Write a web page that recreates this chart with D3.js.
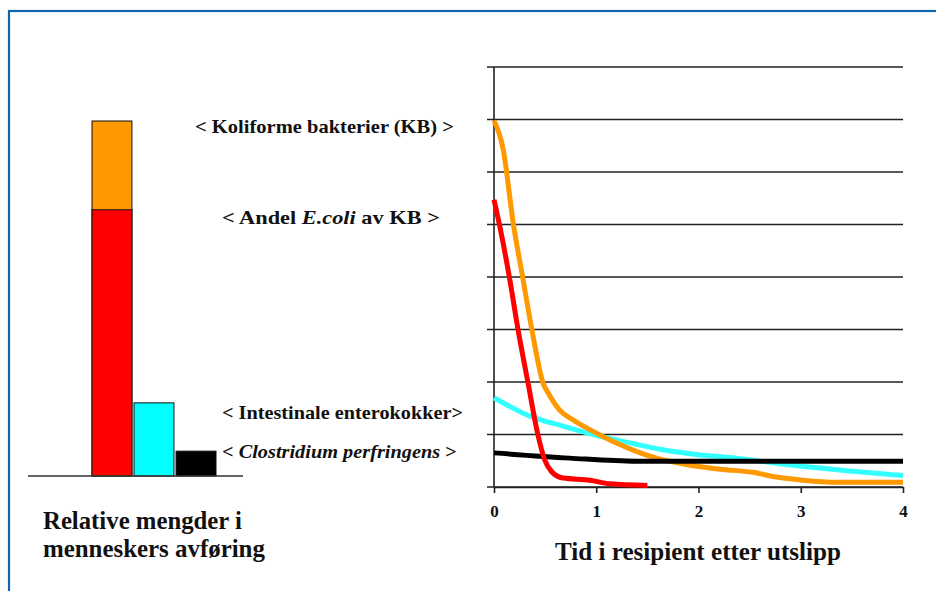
<!DOCTYPE html>
<html>
<head>
<meta charset="utf-8">
<script src="https://cdn.jsdelivr.net/npm/d3@7"></script>
<style>
  html, body { margin: 0; padding: 0; background: #fff; }
  svg { display: block; }
</style>
</head>
<body>
<svg id="chart" width="936" height="591"></svg>
<script>
// ---- Data ----
// Left panel: relative amounts in human faeces (relative units, KB = 100)
const barNames = ["Koliforme bakterier (KB)", "Intestinale enterokokker", "Clostridium perfringens"];
const barTotals = [100, 20.6, 7];
const barEcoliShare = [75, 0, 0];   // E. coli part of coliform bar

// Right panel: time in recipient after discharge (x) vs. relative amount (y)
const timeKB  = [0, 0.09, 0.19, 0.28, 0.37, 0.48, 0.53, 0.64, 0.77, 0.97, 1.16, 1.39, 1.59, 1.88, 2.21, 2.53, 2.76, 3.02, 3.35, 4.0];
const valKB   = [6.98, 6.43, 5.0, 4.0, 3.0, 1.98, 1.79, 1.47, 1.28, 1.06, 0.87, 0.68, 0.55, 0.43, 0.34, 0.28, 0.19, 0.13, 0.09, 0.09];

const timeEcoli = [0, 0.055, 0.15, 0.235, 0.333, 0.43, 0.495, 0.56, 0.675, 0.94, 1.13, 1.5];
const valEcoli  = [5.47, 4.98, 4.0, 3.0, 1.98, 0.99, 0.52, 0.30, 0.17, 0.13, 0.06, 0.03];

const timeEntero = [0, 0.35, 0.675, 0.97, 1.33, 1.65, 1.98, 2.37, 2.86, 3.35, 4.0];
const valEntero  = [1.70, 1.35, 1.16, 1.0, 0.84, 0.71, 0.62, 0.55, 0.43, 0.33, 0.22];

const timeClos = [0, 0.74, 1.39, 2.5, 4.0];
const valClos  = [0.65, 0.55, 0.49, 0.49, 0.49];

const xTickValues = [0, 1, 2, 3, 4];
const gridValues = [0, 1, 2, 3, 4, 5, 6, 7, 8];

const xTitle = "Tid i resipient etter utslipp";
const leftTitle = ["Relative mengder i", "menneskers avføring"];

// ---- Drawing ----
const svg = d3.select("#chart");
const FONT = '"Liberation Serif"';

function txt(sel, size) {
  return sel.style("font-family", FONT).style("font-weight", "bold").attr("font-size", size).attr("fill", "#111");
}
// place text at (x,y) and stretch horizontally to a target width
function fit(t, x, y, width) {
  const w = t.node().getComputedTextLength();
  const k = w > 0 ? width / w : 1;
  t.attr("x", 0).attr("y", 0).attr("transform", `translate(${x},${y}) scale(${k},1)`);
  return t;
}

// blue frame
svg.append("rect").attr("x", 9).attr("y", 11).attr("width", 960).attr("height", 620)
  .attr("fill", "none").attr("stroke", "#1464b4").attr("stroke-width", 2.2);

// ---- Bars ----
const xBar = d3.scaleBand().domain(barNames).range([92, 216]).paddingInner(0.05);
const yBar = d3.scaleLinear().domain([0, 100]).range([476, 121]);
const barColors = ["#ff9900", "#00ffff", "#000000"];

const bars = svg.append("g");
barNames.forEach((n, i) => {
  bars.append("rect")
    .attr("x", xBar(n)).attr("width", xBar.bandwidth())
    .attr("y", yBar(barTotals[i])).attr("height", yBar(0) - yBar(barTotals[i]))
    .attr("fill", barColors[i]).attr("stroke", "#111").attr("stroke-width", 1);
  if (barEcoliShare[i] > 0) {
    bars.append("rect")
      .attr("x", xBar(n)).attr("width", xBar.bandwidth())
      .attr("y", yBar(barEcoliShare[i])).attr("height", yBar(0) - yBar(barEcoliShare[i]))
      .attr("fill", "#ff0000").attr("stroke", "#111").attr("stroke-width", 1);
  }
});
// baseline
svg.append("line").attr("x1", 28).attr("x2", 243).attr("y1", yBar(0)).attr("y2", yBar(0))
  .attr("stroke", "#333").attr("stroke-width", 1.5);

// bar labels
function label(y, x, width, parts) {
  const t = txt(svg.append("text"), 18);
  parts.forEach(p => {
    const s = t.append("tspan").text(p[0]);
    if (p[1]) s.style("font-style", "italic");
  });
  fit(t, x, y, width);
}
label(133, 195, 259, [["< Koliforme bakterier (KB)  >", false]]);
label(224, 222, 218, [["< Andel ", false], ["E.coli", true], [" av KB    >", false]]);
label(419, 222, 241, [["< Intestinale enterokokker>", false]]);
label(458, 222, 235, [["< ", false], ["Clostridium perfringens", true], [" >", false]]);

// left title
const leftWidths = [199, 222];
leftTitle.forEach((s, i) => {
  fit(txt(svg.append("text"), 25).text(s), 43, 529 + i * 28, leftWidths[i]);
});

// ---- Line chart ----
const x = d3.scaleLinear().domain([0, 4]).range([494, 903]);
const y = d3.scaleLinear().domain([0, 8]).range([487, 67]);

const grid = svg.append("g");
grid.selectAll("line.g").data(gridValues).join("line")
  .attr("x1", x(0) - 7).attr("x2", x(4)).attr("y1", d => y(d)).attr("y2", d => y(d))
  .attr("stroke", "#222").attr("stroke-width", 1.6);

// y axis line
svg.append("line").attr("x1", x(0)).attr("x2", x(0)).attr("y1", y(8)).attr("y2", y(0))
  .attr("stroke", "#222").attr("stroke-width", 1.6);

// x axis via d3.axisBottom
const xAxis = d3.axisBottom(x).tickValues(xTickValues).tickSize(6).tickSizeOuter(0).tickPadding(12)
  .tickFormat(d3.format("d"));
const gx = svg.append("g").attr("transform", `translate(0,${y(0)})`).call(xAxis);
gx.attr("font-family", null).attr("font-size", null);
gx.select(".domain").attr("stroke", "#222").attr("stroke-width", 1.6);
gx.selectAll(".tick line").attr("stroke", "#222").attr("stroke-width", 1.6);
txt(gx.selectAll(".tick text"), 17);

fit(txt(svg.append("text"), 25).text(xTitle), 555, 560, 286);

const lineGen = d3.line().x(d => x(d[0])).y(d => y(d[1])).curve(d3.curveMonotoneX);
const zip = (a, b) => a.map((v, i) => [v, b[i]]);

const series = [
  { pts: zip(timeEntero, valEntero), color: "#33ffff" },
  { pts: zip(timeKB, valKB), color: "#ff9900" },
  { pts: zip(timeClos, valClos), color: "#000000" },
  { pts: zip(timeEcoli, valEcoli), color: "#ff0000" }
];
svg.append("g").selectAll("path").data(series).join("path")
  .attr("d", d => lineGen(d.pts))
  .attr("fill", "none").attr("stroke", d => d.color).attr("stroke-width", 5)
  .attr("stroke-linejoin", "round");
</script>
</body>
</html>
